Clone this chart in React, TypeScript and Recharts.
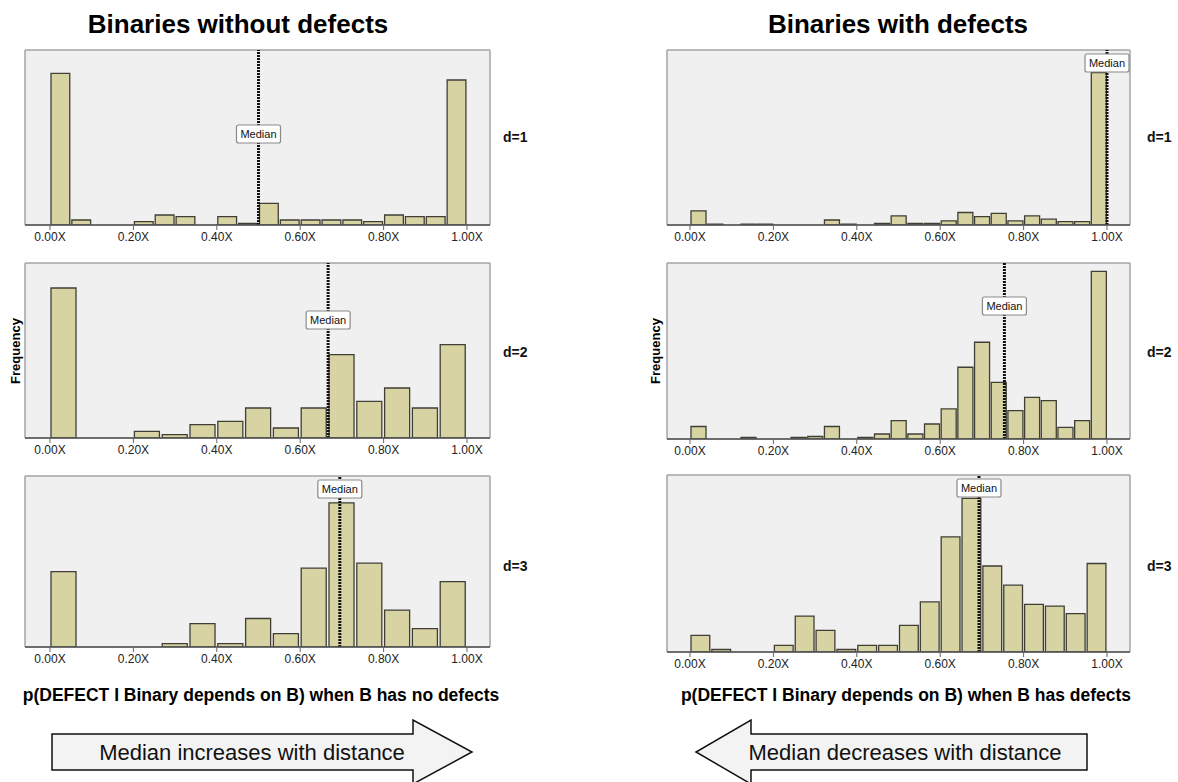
import React from "react";
import { BarChart, Bar, XAxis, YAxis, CartesianGrid, ReferenceLine } from "recharts";

// bin counts, left to right over [0, 1]
const NO_DEFECT_D1 = [91, 3, 0, 0, 2, 6, 5, 0, 5, 1, 13, 3, 3, 3, 3, 2, 6, 5, 5, 87];
const NO_DEFECT_D2 = [90, 0, 0, 4, 2, 8, 10, 18, 6, 18, 50, 22, 30, 18, 56];
const NO_DEFECT_D3 = [45, 0, 0, 0, 2, 14, 2, 17, 8, 47, 86, 50, 22, 11, 39];
const DEFECT_D1 = [17, 1, 0, 1, 1, 0, 0, 0, 6, 1, 0, 2, 11, 2, 2, 5, 15, 10, 14, 5, 11, 7, 4, 4, 183];
const DEFECT_D2 = [15, 0, 0, 2, 0, 0, 2, 3, 15, 0, 2, 6, 22, 6, 18, 36, 86, 116, 68, 34, 50, 46, 14, 22, 201];
const DEFECT_D3 = [20, 3, 0, 0, 8, 43, 26, 3, 8, 8, 32, 60, 138, 184, 103, 80, 57, 55, 46, 106];

const NO_DEFECT_MEDIANS = [0.5, 0.667, 0.695];
const DEFECT_MEDIANS = [1.0, 0.754, 0.693];
const DISTANCES = ["d=1", "d=2", "d=3"];
const X_TICKS = [0, 0.2, 0.4, 0.6, 0.8, 1];

const FONT = "'Liberation Sans', Arial, Helvetica, sans-serif";
const BAR_FILL = "#d8d3a3";
const BAR_STROKE = "#3f3f36";

function MedianTag(props: any) {
  const { viewBox, offsetY } = props;
  if (!viewBox) return null;
  const cx = viewBox.x;
  const cy = viewBox.y + offsetY;
  return (
    <g>
      <rect x={cx - 22} y={cy - 9} width={44} height={18} rx={2} fill="#fff" stroke="#8a8a8a" strokeWidth={1.2} />
      <text x={cx} y={cy + 4} textAnchor="middle" fontSize={11} fontFamily={FONT} fill="#111">
        Median
      </text>
    </g>
  );
}

interface HistProps {
  left: number;
  top: number;
  w: number;
  h: number;
  padL: number;
  padR: number;
  counts: number[];
  yMax: number;
  median: number;
  tagY: number;
}

function Histogram({ left, top, w, h, padL, padR, counts, yMax, median, tagY }: HistProps) {
  const bins = counts.length;
  // bars sit at the centre of each equal-width bin
  const data = counts.map((n, i) => ({ mid: (i + 0.5) / bins, n }));
  const barSize = (w - padL - padR) / bins;
  const m = 2;
  return (
    <div style={{ position: "absolute", left: left - m, top: top - m }}>
      <BarChart
        width={w + 2 * m}
        height={h + m + 24}
        data={data}
        margin={{ top: m, right: m, bottom: 0, left: m }}
        barCategoryGap={0}
        barGap={0}
        barSize={barSize}
      >
        <CartesianGrid
          fill="#f0f0f0"
          fillOpacity={1}
          stroke="#a4a4a4"
          strokeWidth={1.5}
          horizontalPoints={[m, m + h]}
          verticalPoints={[m, m + w]}
        />
        <XAxis
          dataKey="mid"
          type="number"
          domain={[0, 1]}
          ticks={X_TICKS}
          padding={{ left: padL, right: padR }}
          tickFormatter={(v: number) => v.toFixed(2) + "X"}
          height={24}
          tickSize={5}
          tickMargin={2}
          tick={{ fontSize: 12, fill: "#222", fontFamily: FONT }}
          tickLine={{ stroke: "#666" }}
          axisLine={{ stroke: "#555", strokeWidth: 1.5 }}
        />
        <YAxis hide domain={[0, yMax]} allowDataOverflow />
        <Bar dataKey="n" fill={BAR_FILL} stroke={BAR_STROKE} strokeWidth={1.3} isAnimationActive={false} />
        <ReferenceLine
          x={median}
          stroke="#111"
          strokeWidth={3}
          strokeDasharray="2 1"
          label={<MedianTag offsetY={tagY} />}
        />
      </BarChart>
    </div>
  );
}

const sideText: React.CSSProperties = {
  position: "absolute",
  fontFamily: FONT,
  fontWeight: "bold",
  fontSize: 14,
  color: "#111",
  lineHeight: "16px",
};

export default function App() {
  const leftTops = [50, 263, 476];
  const leftHeights = [175, 175, 171];
  const rightTops = [50, 263, 475];
  const rightHeights = [175, 176, 177];
  const noDefect = [NO_DEFECT_D1, NO_DEFECT_D2, NO_DEFECT_D3];
  const noDefectMax = [105, 105, 102];
  const defect = [DEFECT_D1, DEFECT_D2, DEFECT_D3];
  const defectMax = [210, 211, 212];
  const leftTags = [84, 57, 13];
  const rightTags = [13, 43, 13];
  const dY = [137, 352, 566];

  return (
    <div style={{ position: "absolute", left: 0, top: 0, width: 1178, height: 782, background: "#fff", overflow: "hidden" }}>
      <svg width={1178} height={782} style={{ position: "absolute", left: 0, top: 0 }}>
        <g fontFamily={FONT} fill="#000">
          <text x={238} y={33} textAnchor="middle" fontSize={26} fontWeight="bold">
            Binaries without defects
          </text>
          <text x={898} y={33} textAnchor="middle" fontSize={26} fontWeight="bold">
            Binaries with defects
          </text>
          <text x={261} y={701} textAnchor="middle" fontSize={17.5} fontWeight="bold">
            p(DEFECT I Binary depends on B) when B has no defects
          </text>
          <text x={906} y={701} textAnchor="middle" fontSize={17.5} fontWeight="bold">
            p(DEFECT I Binary depends on B) when B has defects
          </text>
          <text transform="translate(20,351) rotate(-90)" textAnchor="middle" fontSize={13} fontWeight="bold">
            Frequency
          </text>
          <text transform="translate(660,351) rotate(-90)" textAnchor="middle" fontSize={13} fontWeight="bold">
            Frequency
          </text>
        </g>
        <polygon
          points="52,734 413,734 413,720 472,752 413,784 413,770 52,770"
          fill="#f3f3f3"
          stroke="#111"
          strokeWidth={1.5}
        />
        <text x={252} y={760} textAnchor="middle" fontSize={22} fontFamily={FONT} fill="#111">
          Median increases with distance
        </text>
        <polygon
          points="1087,734 751,734 751,720 696,752 751,784 751,770 1087,770"
          fill="#f3f3f3"
          stroke="#111"
          strokeWidth={1.5}
        />
        <text x={905} y={760} textAnchor="middle" fontSize={22} fontFamily={FONT} fill="#111">
          Median decreases with distance
        </text>
      </svg>

      {noDefect.map((counts, i) => (
        <Histogram
          key={"l" + i}
          left={25}
          top={leftTops[i]}
          w={465}
          h={leftHeights[i]}
          padL={25}
          padR={23}
          counts={counts}
          yMax={noDefectMax[i]}
          median={NO_DEFECT_MEDIANS[i]}
          tagY={leftTags[i]}
        />
      ))}
      {defect.map((counts, i) => (
        <Histogram
          key={"r" + i}
          left={667}
          top={rightTops[i]}
          w={463}
          h={rightHeights[i]}
          padL={23}
          padR={23}
          counts={counts}
          yMax={defectMax[i]}
          median={DEFECT_MEDIANS[i]}
          tagY={rightTags[i]}
        />
      ))}
      {DISTANCES.map((d, i) => (
        <React.Fragment key={d}>
          <div style={{ ...sideText, left: 503, top: dY[i] - 8 }}>{d}</div>
          <div style={{ ...sideText, left: 1147, top: dY[i] - 8 }}>{d}</div>
        </React.Fragment>
      ))}
    </div>
  );
}
